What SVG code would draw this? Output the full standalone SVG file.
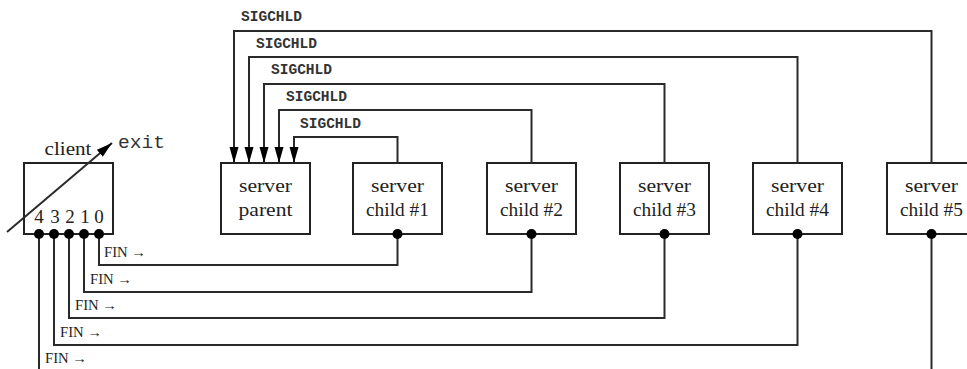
<svg xmlns="http://www.w3.org/2000/svg" width="967" height="369" viewBox="0 0 967 369">
<style>
.box{fill:#fff;stroke:#222;stroke-width:2}
.lbl{font-family:"Liberation Serif",serif;font-size:19px;fill:#222;text-anchor:middle}
.sig{font-family:"Liberation Mono",monospace;font-size:14px;font-weight:bold;fill:#333}
.fin{font-family:"Liberation Serif",serif;font-size:14px;fill:#222}
.wire{fill:none;stroke:#2a2a2a;stroke-width:2}
.dot{fill:#000}
</style>
<defs>
<marker id="ah" markerUnits="userSpaceOnUse" markerWidth="17" markerHeight="10" refX="16" refY="4.5" orient="auto">
<path d="M0,0 L16,4.5 L0,9 z" fill="#000"/>
</marker>
</defs>
<rect width="967" height="369" fill="#fff"/>
<g id="client">
<rect class="box" x="24" y="163" width="89" height="71"/>
<text class="lbl" x="68" y="155" textLength="47" lengthAdjust="spacingAndGlyphs">client</text>
<text x="118" y="148" font-family="Liberation Mono,monospace" font-size="18" fill="#333" textLength="47" lengthAdjust="spacingAndGlyphs">exit</text>
<text class="lbl" x="39" y="223">4</text>
<text class="lbl" x="55" y="223">3</text>
<text class="lbl" x="70" y="223">2</text>
<text class="lbl" x="85" y="223">1</text>
<text class="lbl" x="99" y="223">0</text>
</g>
<g id="parent">
<rect class="box" x="221" y="163" width="89" height="71"/>
<text class="lbl" x="265.5" y="192" textLength="53" lengthAdjust="spacingAndGlyphs">server</text>
<text class="lbl" x="265.5" y="216" textLength="54" lengthAdjust="spacingAndGlyphs">parent</text>
</g>
<g id="child1">
<rect class="box" x="353" y="163" width="89" height="71"/>
<text class="lbl" x="397.5" y="192" textLength="53" lengthAdjust="spacingAndGlyphs">server</text>
<text class="lbl" x="397.5" y="216" textLength="63" lengthAdjust="spacingAndGlyphs">child #1</text>
</g>
<g id="child2">
<rect class="box" x="487" y="163" width="89" height="71"/>
<text class="lbl" x="531.5" y="192" textLength="53" lengthAdjust="spacingAndGlyphs">server</text>
<text class="lbl" x="531.5" y="216" textLength="63" lengthAdjust="spacingAndGlyphs">child #2</text>
</g>
<g id="child3">
<rect class="box" x="620" y="163" width="89" height="71"/>
<text class="lbl" x="664.5" y="192" textLength="53" lengthAdjust="spacingAndGlyphs">server</text>
<text class="lbl" x="664.5" y="216" textLength="63" lengthAdjust="spacingAndGlyphs">child #3</text>
</g>
<g id="child4">
<rect class="box" x="753" y="163" width="89" height="71"/>
<text class="lbl" x="797.5" y="192" textLength="53" lengthAdjust="spacingAndGlyphs">server</text>
<text class="lbl" x="797.5" y="216" textLength="63" lengthAdjust="spacingAndGlyphs">child #4</text>
</g>
<g id="child5">
<rect class="box" x="887" y="163" width="89" height="71"/>
<text class="lbl" x="931.5" y="192" textLength="53" lengthAdjust="spacingAndGlyphs">server</text>
<text class="lbl" x="931.5" y="216" textLength="63" lengthAdjust="spacingAndGlyphs">child #5</text>
</g>
<g id="connectors">
<path class="wire" d="M931.5,163 V31 H234 V163" marker-end="url(#ah)"/>
<path class="wire" d="M797.5,163 V57 H249 V163" marker-end="url(#ah)"/>
<path class="wire" d="M664.5,163 V84 H264 V163" marker-end="url(#ah)"/>
<path class="wire" d="M531.5,163 V110 H279 V163" marker-end="url(#ah)"/>
<path class="wire" d="M397.5,163 V137 H294 V163" marker-end="url(#ah)"/>
<text class="sig" x="241" y="21" textLength="61" lengthAdjust="spacingAndGlyphs">SIGCHLD</text>
<text class="sig" x="256" y="48" textLength="61" lengthAdjust="spacingAndGlyphs">SIGCHLD</text>
<text class="sig" x="271" y="74" textLength="61" lengthAdjust="spacingAndGlyphs">SIGCHLD</text>
<text class="sig" x="286" y="101" textLength="61" lengthAdjust="spacingAndGlyphs">SIGCHLD</text>
<text class="sig" x="300" y="128" textLength="61" lengthAdjust="spacingAndGlyphs">SIGCHLD</text>
<path class="wire" d="M99,234 V265 H397.5 V234"/>
<path class="wire" d="M84,234 V292 H531.5 V234"/>
<path class="wire" d="M69,234 V318 H664.5 V234"/>
<path class="wire" d="M54,234 V345 H797.5 V234"/>
<path class="wire" d="M39,234 V372"/>
<path class="wire" d="M931.5,234 V372"/>
<text class="fin" x="104" y="257" textLength="42" lengthAdjust="spacingAndGlyphs">FIN →</text>
<text class="fin" x="90" y="284" textLength="42" lengthAdjust="spacingAndGlyphs">FIN →</text>
<text class="fin" x="75" y="310" textLength="42" lengthAdjust="spacingAndGlyphs">FIN →</text>
<text class="fin" x="60" y="337" textLength="42" lengthAdjust="spacingAndGlyphs">FIN →</text>
<text class="fin" x="45" y="363" textLength="42" lengthAdjust="spacingAndGlyphs">FIN →</text>
<circle class="dot" cx="39" cy="234" r="5"/>
<circle class="dot" cx="54" cy="234" r="5"/>
<circle class="dot" cx="69" cy="234" r="5"/>
<circle class="dot" cx="84" cy="234" r="5"/>
<circle class="dot" cx="99" cy="234" r="5"/>
<circle class="dot" cx="397.5" cy="234" r="5"/>
<circle class="dot" cx="531.5" cy="234" r="5"/>
<circle class="dot" cx="664.5" cy="234" r="5"/>
<circle class="dot" cx="797.5" cy="234" r="5"/>
<circle class="dot" cx="931.5" cy="234" r="5"/>
<line class="wire" x1="7" y1="232" x2="112" y2="143" marker-end="url(#ah)"/>
</g>
</svg>
